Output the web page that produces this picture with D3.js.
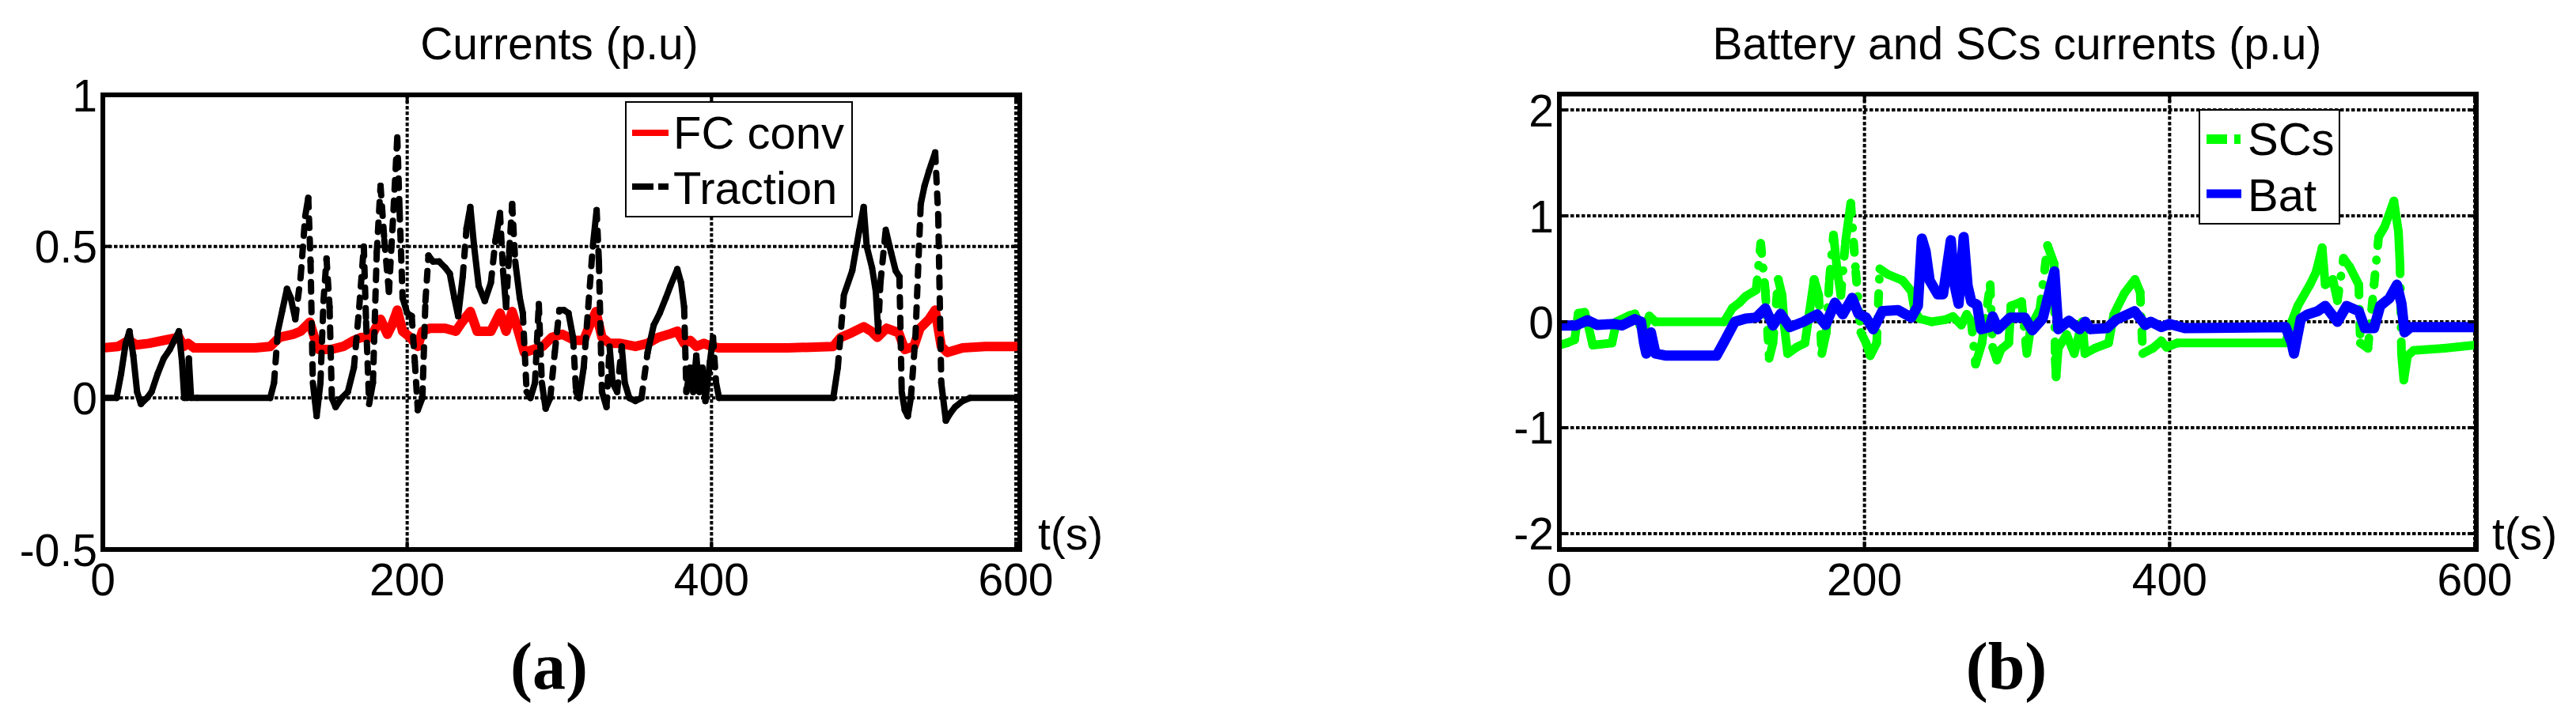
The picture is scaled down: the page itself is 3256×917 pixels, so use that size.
<!DOCTYPE html>
<html>
<head>
<meta charset="utf-8">
<script src="https://cdnjs.cloudflare.com/ajax/libs/d3/7.8.5/d3.min.js"></script>
<style>
  body { margin: 0; background: #fff; }
  text { font-family: "Liberation Sans", Arial, sans-serif; fill: #000; }
</style>
</head>
<body>
<div id="my_dataviz"></div>
<script>
// ---------- data ----------
var xTicks = [0, 200, 400, 600];
var yTicksA = [-0.5, 0, 0.5, 1];
var yLabelsA = ["-0.5", "0", "0.5", "1"];
var yTicksB = [-2, -1, 0, 1, 2];
var yLabelsB = ["-2", "-1", "0", "1", "2"];

// (a) FC converter current
var fcT = [0, 10, 17, 22, 30, 40, 50, 53, 56, 60, 80, 100, 110, 116, 125, 130, 136, 139, 142, 150,
  158, 165, 170, 176, 182.5, 187, 190, 193.5, 197, 202, 207, 210, 215, 225, 232, 236, 241.5, 246,
  255, 261, 265, 269, 273, 277, 283, 289, 295, 302, 310, 316, 320, 324, 328, 333, 340, 350, 358,
  365, 372, 377.5, 382, 386, 390, 395, 400, 405, 420, 450, 480, 485, 492, 500, 505, 509, 515, 523,
  527, 533, 537, 543, 547, 551, 555, 565, 580, 600];
var fcV = [0.165, 0.17, 0.19, 0.175, 0.18, 0.19, 0.2, 0.17, 0.18, 0.165, 0.165, 0.165, 0.17, 0.2,
  0.21, 0.22, 0.25, 0.2, 0.16, 0.16, 0.17, 0.19, 0.2, 0.2, 0.26, 0.21, 0.24, 0.29, 0.22, 0.2, 0.17,
  0.22, 0.23, 0.23, 0.22, 0.25, 0.285, 0.22, 0.22, 0.28, 0.22, 0.285, 0.22, 0.15, 0.16, 0.17, 0.2,
  0.21, 0.19, 0.19, 0.24, 0.285, 0.2, 0.18, 0.18, 0.17, 0.18, 0.2, 0.21, 0.22, 0.18, 0.19, 0.17,
  0.18, 0.17, 0.165, 0.165, 0.165, 0.17, 0.2, 0.215, 0.235, 0.22, 0.2, 0.23, 0.215, 0.16, 0.17,
  0.23, 0.26, 0.29, 0.17, 0.15, 0.165, 0.17, 0.17];

// (a) traction current
var trT = [0, 9, 12, 15, 17.5, 20, 22.5, 25, 29, 32, 36, 40, 44, 47, 50, 52, 53.5, 55.5, 56.5, 58,
  62, 110, 112.5, 115, 118, 121, 123.5, 126.5, 130, 133, 135, 136.5, 138, 140.5, 143, 145, 147, 149,
  150.5, 153, 157, 161, 165, 168.5, 171.5, 173, 175, 177.5, 180, 182.5, 185, 188, 191, 193.5, 195,
  197, 200, 203, 205, 207, 210, 212, 214, 217, 221, 225, 228, 231, 233.5, 236.5, 239, 241.5, 244,
  247, 251, 255, 258, 261, 263, 265, 267, 269, 271, 274, 276, 278.5, 281, 284, 286.5, 288.5, 291,
  294, 297, 300, 303, 306, 309, 311, 313, 316, 319, 322, 324.5, 326, 328, 331, 333, 335, 338, 341,
  343, 346, 350, 354, 358, 362, 366, 370, 373, 377.5, 380, 382, 383.5, 386, 388, 390, 392, 394, 396,
  399, 401, 403, 405, 480, 483, 487, 492.5, 497, 500, 502, 505.5, 508, 509.5, 511, 514.5, 518, 521,
  523.5, 525, 527, 529, 531, 534, 537.5, 540, 543, 547, 549, 551, 554, 557, 560, 565, 570, 600];
var trV = [0, 0, 0.08, 0.18, 0.22, 0.14, 0.02, -0.02, 0, 0.02, 0.08, 0.13, 0.16, 0.19, 0.22, 0.12,
  0, 0, 0.13, 0, 0, 0, 0.05, 0.22, 0.29, 0.36, 0.33, 0.26, 0.4, 0.6, 0.66, 0.45, 0.05, -0.06, 0.05,
  0.32, 0.46, 0.3, 0, -0.03, 0, 0.02, 0.1, 0.3, 0.5, 0.25, -0.02, 0.05, 0.48, 0.7, 0.52, 0.35, 0.62,
  0.86, 0.62, 0.33, 0.28, 0.27, 0.12, -0.04, 0, 0.32, 0.47, 0.45, 0.45, 0.43, 0.41, 0.33, 0.27, 0.4,
  0.56, 0.63, 0.5, 0.37, 0.32, 0.38, 0.52, 0.61, 0.42, 0.3, 0.48, 0.64, 0.45, 0.33, 0.28, 0.02, 0,
  0.05, 0.31, 0.05, -0.035, 0, 0.15, 0.29, 0.29, 0.28, 0.2, 0.02, 0, 0.1, 0.3, 0.5, 0.62, 0.45,
  0.02, -0.03, 0.17, 0.05, 0.02, 0.17, 0.05, 0, -0.01, 0, 0.15, 0.24, 0.28, 0.33, 0.37, 0.425, 0.38,
  0.3, 0.02, 0.1, 0.02, 0.14, 0.02, 0.1, -0.01, 0.12, 0.2, 0.05, 0, 0, 0.1, 0.34, 0.42, 0.55, 0.63,
  0.5, 0.43, 0.35, 0.22, 0.38, 0.555, 0.48, 0.42, 0.4, 0.02, -0.04, -0.06, 0, 0.2, 0.64, 0.7, 0.75,
  0.81, 0.6, 0.05, -0.075, -0.05, -0.03, -0.01, 0, 0];

// (b) supercapacitor current
var scT = [0, 5, 10, 12.4, 16.6, 19, 21.9, 34.5, 37.4, 46, 49.5, 53, 56, 59, 63, 108, 113.4, 118,
  122, 129, 132, 135, 137.5, 140, 143.5, 146, 147.5, 149.6, 155.5, 161, 164, 167, 170, 172, 175,
  177, 179.7, 182, 184.5, 187.5, 191, 194.3, 197.6, 201, 203.8, 208, 210, 215, 225, 230.7, 233,
  236, 244, 253, 258, 263.5, 267, 270, 272.8, 277, 282.4, 284, 286.8, 289.5, 294.6, 296, 299.8,
  303, 306.4, 309, 315, 320, 324.3, 325, 325.6, 327, 332.5, 337.5, 342.7, 344.5, 351, 360, 363.4,
  370.4, 377.3, 380.7, 382.4, 389, 394.6, 398, 405, 476, 480, 484, 492, 496, 500, 502, 507, 510,
  514, 518, 524, 525, 530, 534, 537, 541, 547, 550, 551, 552, 553.5, 556, 560, 580, 600];
var scV = [-0.22, -0.2, -0.17, 0.08, 0.09, -0.04, -0.22, -0.2, 0, 0.06, 0.075, -0.04, -0.05, 0.055,
  0, 0, 0.13, 0.18, 0.24, 0.3, 0.74, 0.29, -0.345, -0.2, 0.4, 0.25, -0.05, -0.3, -0.24, -0.2, 0.1,
  0.4, 0.25, -0.3, -0.1, 0.4, 0.82, 0.5, 0.25, 0.75, 1.12, 0.47, -0.1, -0.2, -0.32, -0.2, 0.5, 0.45,
  0.39, 0.29, 0.1, 0.03, 0, 0.02, 0.05, -0.03, 0.07, 0, -0.4, -0.2, 0.35, -0.24, -0.36, -0.26, -0.2,
  0.15, 0.17, 0.19, -0.3, -0.05, 0.12, 0.72, 0.55, -0.35, -0.52, -0.25, -0.12, -0.3, 0, -0.3, -0.25,
  -0.2, 0.07, 0.27, 0.4, 0.28, -0.3, -0.25, -0.18, -0.24, -0.2, -0.2, 0, 0.15, 0.35, 0.47, 0.7,
  0.35, 0.4, 0.2, 0.6, 0.52, 0.35, -0.2, -0.25, 0.35, 0.8, 0.9, 1.14, 0.85, 0.55, -0.3, -0.55,
  -0.32, -0.27, -0.25, -0.22];

// (b) battery current
var batT = [0, 11, 18.5, 25, 35.5, 41, 49.5, 53.5, 55.5, 57, 60, 63, 70, 103, 108, 115, 122, 129,
  135, 140, 145, 151, 160, 169, 174.5, 180.6, 185.8, 191.9, 196, 201, 205.7, 211.7, 222, 230.7, 235,
  237.6, 240, 242.7, 248, 251.5, 256.6, 259, 261.7, 265, 267.6, 270, 273.8, 276.4, 282, 284, 287.5,
  295.4, 305, 310, 316.8, 324.5, 327, 334, 341, 344.7, 348, 359, 365, 377, 384, 387.7, 394.6, 400,
  410, 476, 480, 481.5, 486, 490.6, 497, 502, 510, 516, 524, 528, 534, 538, 544, 549, 552, 554, 558,
  600];
var batV = [-0.035, -0.035, 0.015, -0.03, -0.02, -0.035, 0.025, 0, -0.2, -0.3, -0.1, -0.3, -0.32,
  -0.32, -0.19, 0, 0.03, 0.04, 0.126, -0.035, 0.075, -0.05, 0, 0.07, -0.03, 0.18, 0.07, 0.225,
  0.075, 0.04, -0.07, 0.1, 0.11, 0.04, 0.15, 0.785, 0.67, 0.39, 0.26, 0.26, 0.77, 0.35, 0.17, 0.8,
  0.34, 0.19, 0.16, -0.07, -0.05, 0.05, -0.07, 0.04, 0.04, -0.08, 0.03, 0.475, -0.07, 0.01, -0.07,
  0, -0.07, -0.06, 0.02, 0.1, -0.03, 0, -0.05, -0.02, -0.06, -0.05, -0.2, -0.3, 0.03, 0.07, 0.1,
  0.15, 0, 0.15, 0.1, -0.06, -0.06, 0.15, 0.22, 0.35, 0.17, -0.1, -0.05, -0.05];

// ---------- drawing ----------
var svg = d3.select("#my_dataviz")
  .append("svg")
    .attr("width", 3256)
    .attr("height", 917);

svg.append("rect")
  .attr("width", 3256)
  .attr("height", 917)
  .attr("fill", "#fff");

var panels = [
  {
    id: "a", left: 130, right: 1284, top: 120, bottom: 695, boxRight: 1289,
    yDomain: [-0.5, 1], yTicks: yTicksA, yLabels: yLabelsA,
    title: "Currents (p.u)", letter: "(a)", letterX: 694, tsX: 1312,
    series: [
      {t: fcT, v: fcV, color: "#ff0000", width: 12},
      {t: trT, v: trV, color: "#000000", width: 8, dash: "12,14"}
    ],
    legend: {x: 791, y: 129, w: 286, h: 145, sx1: 799, sx2: 845, tx: 851,
      items: [
        {label: "FC conv", sy: 168, ty: 188, color: "#ff0000", width: 8, dash: null},
        {label: "Traction", sy: 236, ty: 258, color: "#000000", width: 8, dash: "27,6"}
      ]}
  },
  {
    id: "b", left: 1971, right: 3128, top: 119, bottom: 695, boxRight: 3130,
    yDomain: [-2.15, 2.15], yTicks: yTicksB, yLabels: yLabelsB,
    title: "Battery and SCs currents (p.u)", letter: "(b)", letterX: 2536, tsX: 3150,
    series: [
      {t: scT, v: scV, color: "#00ff00", width: 11, dash: "13,18,0.5,18"},
      {t: batT, v: batV, color: "#0000ff", width: 13}
    ],
    legend: {x: 2780, y: 139, w: 177, h: 144, sx1: 2789, sx2: 2833, tx: 2841,
      items: [
        {label: "SCs", sy: 176, ty: 196, color: "#00ff00", width: 12, dash: "26,9,8,20"},
        {label: "Bat", sy: 245, ty: 267, color: "#0000ff", width: 11, dash: null}
      ]}
  }
];

panels.forEach(function(p) {
  var x = d3.scaleLinear().domain([0, 600]).range([p.left, p.right]);
  var y = d3.scaleLinear().domain(p.yDomain).range([p.bottom, p.top]);
  var g = svg.append("g");

  g.append("clipPath").attr("id", "clip-" + p.id)
    .append("rect")
      .attr("x", p.left).attr("y", p.top)
      .attr("width", p.boxRight - p.left).attr("height", p.bottom - p.top);

  // dotted grid
  g.append("g").selectAll("line").data(xTicks).enter().append("line")
    .attr("x1", d => x(d)).attr("x2", d => x(d))
    .attr("y1", p.top).attr("y2", p.bottom)
    .attr("stroke", "#000").attr("stroke-width", 4).attr("stroke-dasharray", "4.5,2.5");
  g.append("g").selectAll("line").data(p.yTicks).enter().append("line")
    .attr("x1", p.left).attr("x2", p.boxRight)
    .attr("y1", d => y(d)).attr("y2", d => y(d))
    .attr("stroke", "#000").attr("stroke-width", 4).attr("stroke-dasharray", "4.5,2.5");

  // data lines
  var plot = g.append("g").attr("clip-path", "url(#clip-" + p.id + ")");
  p.series.forEach(function(s) {
    var pts = s.t.map((t, i) => ({t: t, v: s.v[i]}));
    if (!s.dash) {
      plot.append("path")
        .datum(pts)
        .attr("fill", "none")
        .attr("stroke", s.color)
        .attr("stroke-width", s.width)
        .attr("stroke-linejoin", "round")
        .attr("stroke-linecap", "round")
        .attr("d", d3.line().x(d => x(d.t)).y(d => y(d.v)));
    } else {
      // dense samples look solid; only the long jumps show the dash pattern
      plot.append("g").selectAll("line")
        .data(d3.pairs(pts))
        .enter()
        .append("line")
          .attr("x1", d => x(d[0].t)).attr("y1", d => y(d[0].v))
          .attr("x2", d => x(d[1].t)).attr("y2", d => y(d[1].v))
          .attr("stroke", s.color)
          .attr("stroke-width", s.width)
          .attr("stroke-linecap", "round")
          .attr("stroke-dasharray", function(d) {
            var dy = Math.abs(y(d[1].v) - y(d[0].v));
            var dx = Math.abs(x(d[1].t) - x(d[0].t));
            return (dy > 50 && dy > 4 * dx) ? s.dash : null;
          });
    }
  });

  // ticks (inside, all four sides)
  var tl = 10;
  xTicks.forEach(function(d) {
    g.append("line").attr("x1", x(d)).attr("x2", x(d)).attr("y1", p.bottom).attr("y2", p.bottom - tl)
      .attr("stroke", "#000").attr("stroke-width", 4);
    g.append("line").attr("x1", x(d)).attr("x2", x(d)).attr("y1", p.top).attr("y2", p.top + tl)
      .attr("stroke", "#000").attr("stroke-width", 4);
  });
  p.yTicks.forEach(function(d) {
    g.append("line").attr("x1", p.left).attr("x2", p.left + tl).attr("y1", y(d)).attr("y2", y(d))
      .attr("stroke", "#000").attr("stroke-width", 4);
    g.append("line").attr("x1", p.boxRight).attr("x2", p.boxRight - tl).attr("y1", y(d)).attr("y2", y(d))
      .attr("stroke", "#000").attr("stroke-width", 4);
  });

  // box
  g.append("rect")
    .attr("x", p.left).attr("y", p.top)
    .attr("width", p.boxRight - p.left).attr("height", p.bottom - p.top)
    .attr("fill", "none").attr("stroke", "#000").attr("stroke-width", 6);

  // tick labels
  g.append("g").selectAll("text").data(xTicks).enter().append("text")
    .attr("x", d => x(d)).attr("y", 753)
    .attr("text-anchor", "middle").attr("font-size", 57)
    .text(d => d);
  g.append("g").selectAll("text").data(p.yTicks).enter().append("text")
    .attr("x", p.left - 7).attr("y", d => y(d)).attr("dy", "0.36em")
    .attr("text-anchor", "end").attr("font-size", 57)
    .text((d, i) => p.yLabels[i]);

  g.append("text")
    .attr("x", p.tsX).attr("y", 695)
    .attr("font-size", 57)
    .text("t(s)");

  g.append("text")
    .attr("x", (p.left + p.right) / 2).attr("y", 75)
    .attr("text-anchor", "middle").attr("font-size", 57)
    .text(p.title);

  g.append("text")
    .attr("x", p.letterX).attr("y", 871)
    .attr("text-anchor", "middle")
    .style("font-family", "'Liberation Serif', 'Times New Roman', serif")
    .attr("font-weight", "bold").attr("font-size", 84)
    .text(p.letter);

  // legend
  var L = p.legend;
  var lg = g.append("g");
  lg.append("rect")
    .attr("x", L.x).attr("y", L.y).attr("width", L.w).attr("height", L.h)
    .attr("fill", "#fff").attr("stroke", "#000").attr("stroke-width", 2);
  L.items.forEach(function(it) {
    lg.append("line")
      .attr("x1", L.sx1).attr("x2", L.sx2).attr("y1", it.sy).attr("y2", it.sy)
      .attr("stroke", it.color).attr("stroke-width", it.width)
      .attr("stroke-dasharray", it.dash);
    lg.append("text")
      .attr("x", L.tx).attr("y", it.ty)
      .attr("font-size", 58)
      .text(it.label);
  });
});
</script>
</body>
</html>
